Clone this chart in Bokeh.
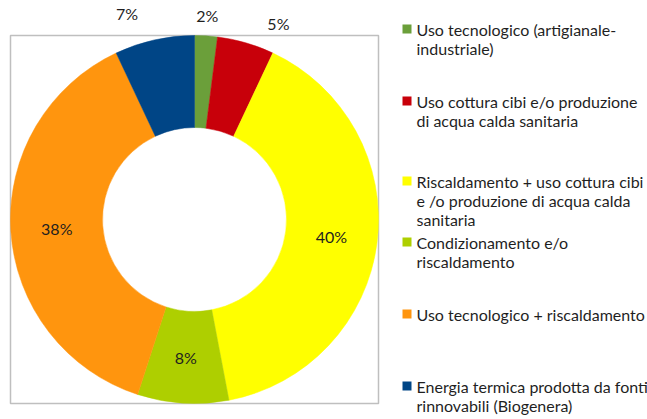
import math
from bokeh.plotting import figure
from bokeh.models import Range1d, ColumnDataSource
from bokeh.core.properties import value
from bokeh.embed import file_html
from bokeh.resources import INLINE

# ---- data ----
categories = [
    "Uso tecnologico (artigianale-\nindustriale)",
    "Uso cottura cibi e/o produzione\ndi acqua calda sanitaria",
    "Riscaldamento + uso cottura cibi\ne /o produzione di acqua calda\nsanitaria",
    "Condizionamento e/o\nriscaldamento",
    "Uso tecnologico + riscaldamento",
    "Energia termica prodotta da fonti\nrinnovabili (Biogenera)",
]
shares = [2, 5, 40, 8, 38, 7]
pct_labels = ["2%", "5%", "40%", "8%", "38%", "7%"]

# ---- style ----
colors = ["#6B9F3A", "#C8000A", "#FFFF00", "#AECF00", "#FF950E", "#004586"]
outside = [True, True, False, False, False, True]
nudge_x = [0, 27, 0, 0, 0, -23]
nudge_y = [0, 0, 0, 0, 0, -7]
legend_line_y = [30, 102, 182, 243, 315, 387]  # page px of first line centres

W, H = 647, 419
def dx(px):
    return px
def dy(py):
    return H - py

cx, cy = dx(194), dy(219)
r_out, r_in = 184, 92

total = float(sum(shares))
starts, ends, mids = [], [], []
acc = 0.0
for s in shares:
    a0 = math.pi / 2 - 2 * math.pi * acc / total
    acc += s
    a1 = math.pi / 2 - 2 * math.pi * acc / total
    starts.append(a0)
    ends.append(a1)
    mids.append((a0 + a1) / 2)

p = figure(width=W, height=H, output_backend="svg", toolbar_location=None,
           x_range=Range1d(0, W), y_range=Range1d(0, H), min_border=0)
p.axis.visible = False
p.grid.visible = False
p.outline_line_color = None
p.background_fill_color = "white"
p.border_fill_color = "white"

# plot-area frame
p.quad(left=[dx(10)], right=[dx(378)], bottom=[dy(403)], top=[dy(35)],
       fill_color=None, line_color="#BFBFBF", line_width=1.5)

src = ColumnDataSource(dict(start=starts, end=ends, color=colors))
p.annular_wedge(x=cx, y=cy, inner_radius=r_in, outer_radius=r_out,
                start_angle="start", end_angle="end", direction="clock",
                fill_color="color", line_color="color", line_width=0.5, source=src)

# percentage labels
lx, ly = [], []
for i, m in enumerate(mids):
    r = 204 if outside[i] else (r_in + r_out) / 2
    lx.append(cx + r * math.cos(m) + nudge_x[i])
    ly.append(cy + r * math.sin(m) - nudge_y[i])
p.text(x=lx, y=ly, text=pct_labels, text_align="center", text_baseline="middle",
       text_font=value("Lato"), text_font_size="16px", text_color="#1F1F1F")

# legend
sq = 9
lgx = dx(406.5)
lgy = [dy(v) for v in legend_line_y]
p.rect(x=[lgx] * 6, y=[v + 1.5 for v in lgy], width=sq, height=sq,
       fill_color=colors, line_color=None)
p.text(x=[dx(416)] * 6, y=[v + 10.5 for v in lgy], text=categories,
       text_align="left", text_baseline="top", text_line_height=1.0,
       text_font=value("Lato"), text_font_size="16px", text_color="#1F1F1F")

open("out.html", "w").write(file_html(p, INLINE))
